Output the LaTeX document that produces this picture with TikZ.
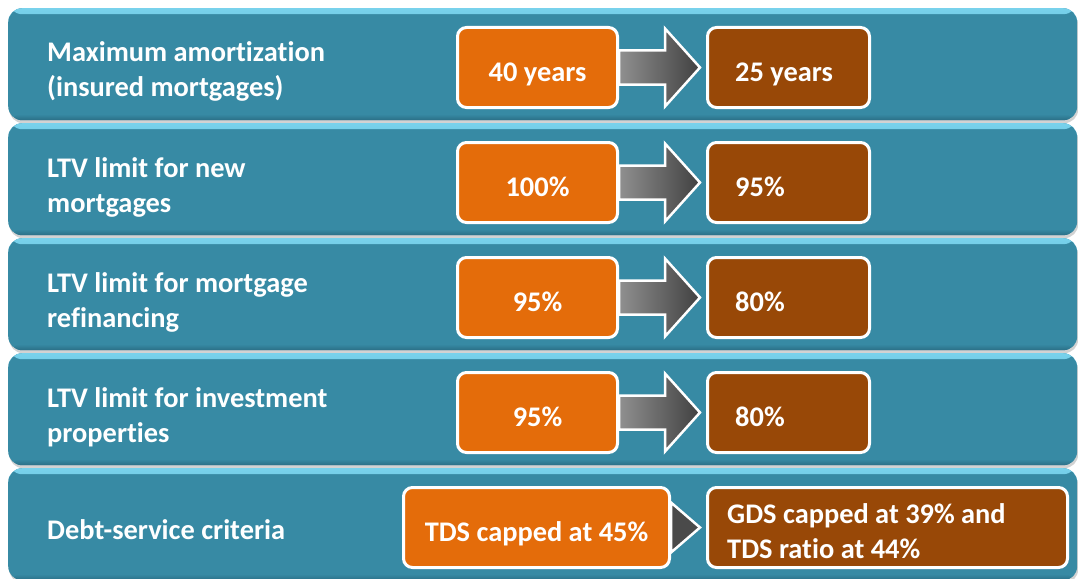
\documentclass[tikz,border=0pt]{standalone}
\usepackage{fontspec}
\setmainfont{Carlito}[Ligatures=NoCommon]
\usetikzlibrary{calc,shadows}

\definecolor{rowteal}{HTML}{378AA4}
\definecolor{rowhi}{HTML}{78D2EC}
\definecolor{rowlow}{HTML}{2B6F86}
\definecolor{oldval}{HTML}{E46C0A}
\definecolor{newval}{HTML}{984807}
\definecolor{arrowlight}{HTML}{909090}
\definecolor{arrowdark}{HTML}{404040}
\definecolor{tipgray}{HTML}{4A4A4A}

% two stacked lines whose reference point is the first baseline
\newcommand\linepair[2]{\vtop{\hbox{#1}\hbox{#2}}}

\tikzset{
  rowbox/.style={fill=rowteal, rounded corners=14pt, minimum width=1069pt,
    minimum height=112pt, inner sep=0pt, anchor=north west,
    drop shadow={shadow xshift=1pt, shadow yshift=-3pt, opacity=0.35},
    path picture={
      \shade[top color=rowhi, bottom color=rowteal]
        (path picture bounding box.north west) rectangle
        ([yshift=-6pt]path picture bounding box.north east);
      \shade[top color=rowteal, bottom color=rowlow]
        ([yshift=6pt]path picture bounding box.south west) rectangle
        (path picture bounding box.south east);
    }},
  valbox/.style={draw=white, line width=3pt, rounded corners=9pt,
    minimum height=80pt, inner sep=0pt, anchor=north west},
  oldbox/.style={valbox, fill=oldval},
  newbox/.style={valbox, fill=newval},
  txt/.style={text=white, inner sep=0pt,
    font=\fontsize{28.4}{35}\selectfont\bfseries},
  shiftarrow/.style={left color=arrowlight, right color=arrowdark,
    draw=white, line width=2.5pt, line join=miter},
  tiptri/.style={fill=tipgray, draw=white, line width=2.5pt, line join=miter}
}

\begin{document}
\begin{tikzpicture}[x=1pt, y=-1pt]
  \useasboundingbox (0,0) rectangle (1078,578);
  \clip (0,0) rectangle (1078,578);
  \fill[white] (0,0) rectangle (1078,578);

  % the five bands
  \node[rowbox] (r1) at (8,8) {};
  \node[rowbox] (r2) at (8,123) {};
  \node[rowbox] (r3) at (8,238) {};
  \node[rowbox] (r4) at (8,353) {};
  \node[rowbox] (r5) at (8,468) {};

  % old and new values
  \node[oldbox, minimum width=160pt] (o1) at (456,26) {};
  \node[newbox, minimum width=162pt] (n1) at (706,26) {};
  \node[oldbox, minimum width=160pt] (o2) at (456,141) {};
  \node[newbox, minimum width=162pt] (n2) at (706,141) {};
  \node[oldbox, minimum width=160pt] (o3) at (456,256) {};
  \node[newbox, minimum width=162pt] (n3) at (706,256) {};
  \node[oldbox, minimum width=160pt] (o4) at (456,371) {};
  \node[newbox, minimum width=162pt] (n4) at (706,371) {};
  \node[oldbox, minimum width=266pt] (o5) at (402,486) {};
  \node[newbox, minimum width=360pt] (n5) at (706,486) {};

  % block arrows from old to new
  \foreach \k in {1,2,3,4}{
    \path[shiftarrow]
      ($(o\k.east)+(0,-17)$) -- ($(o\k.east)+(46,-17)$) --
      ($(o\k.east)+(46,-39)$) -- ($(n\k.west)+(-6,0)$) --
      ($(o\k.east)+(46,39)$) -- ($(o\k.east)+(46,17)$) --
      ($(o\k.east)+(0,17)$) -- cycle;
  }
  \path[tiptri] ($(o5.east)+(0,-25)$) -- ($(n5.west)+(-6,0)$) --
    ($(o5.east)+(0,25)$) -- cycle;

  % row captions
  \node[txt, anchor=base west] (l1) at (47,62)
    {\linepair{Maximum amortization}{(insured mortgages)}};
  \node[txt, anchor=base west] (l2) at (47,177)
    {\linepair{LTV limit for new}{mortgages}};
  \node[txt, anchor=base west] (l3) at (47,292)
    {\linepair{LTV limit for mortgage}{refinancing}};
  \node[txt, anchor=base west] (l4) at (47,407)
    {\linepair{LTV limit for investment}{properties}};
  \node[txt, anchor=base west] (l5) at (47,539) {Debt-service criteria};

  % values
  \node[txt, anchor=base] (v1) at ($(o1.center)+(0,14)$) {40 years};
  \node[txt, anchor=base] (v2) at ($(o2.center)+(0,14)$) {100\%};
  \node[txt, anchor=base] (v3) at ($(o3.center)+(0,14)$) {95\%};
  \node[txt, anchor=base] (v4) at ($(o4.center)+(0,14)$) {95\%};
  \node[txt, anchor=base] (v5) at ($(o5.center)+(0,14)$) {TDS capped at 45\%};

  \node[txt, anchor=base west] (w1) at ($(n1.west)+(29,14)$) {25 years};
  \node[txt, anchor=base west] (w2) at ($(n2.west)+(29,14)$) {95\%};
  \node[txt, anchor=base west] (w3) at ($(n3.west)+(29,14)$) {80\%};
  \node[txt, anchor=base west] (w4) at ($(n4.west)+(29,14)$) {80\%};
  \node[txt, anchor=base west] (w5) at ($(n5.west)+(21,-4)$)
    {\linepair{GDS capped at 39\% and}{TDS ratio at 44\%}};
\end{tikzpicture}
\end{document}
